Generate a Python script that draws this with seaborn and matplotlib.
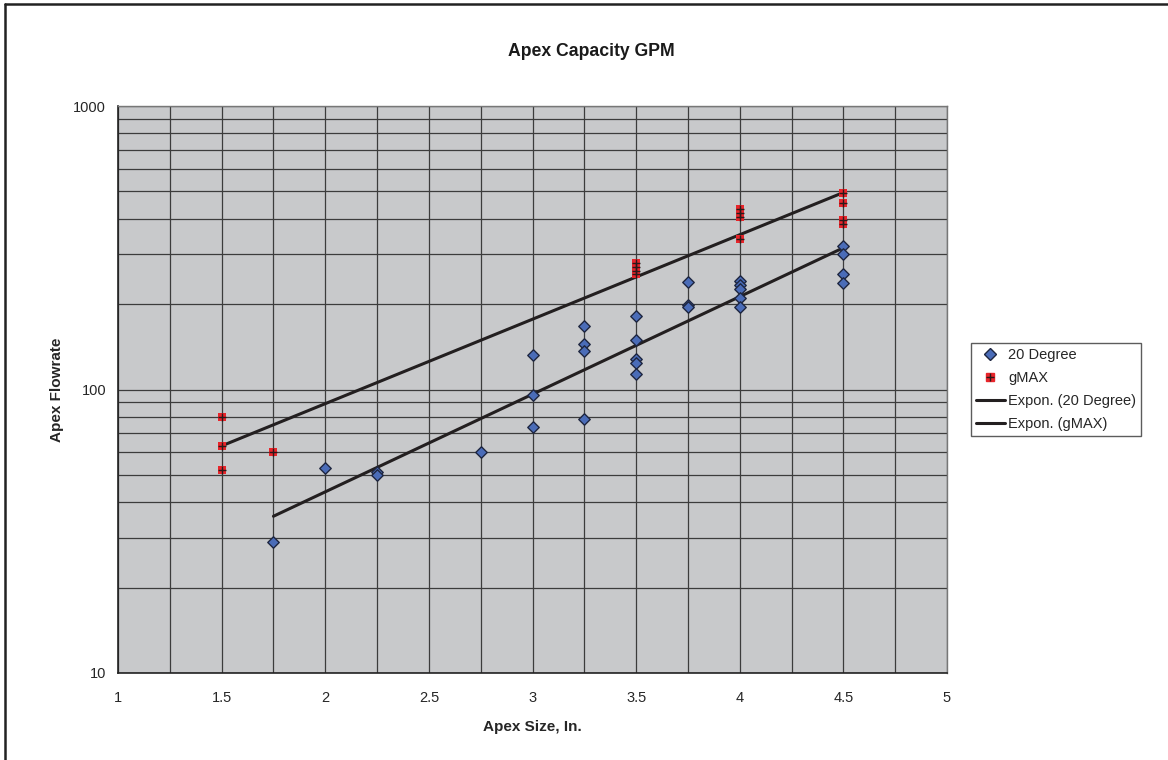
"""
Apex capacity chart: flowrate vs apex size, with exponential trendlines.
"""
import numpy as np
import pandas as pd
import matplotlib
matplotlib.use("Agg")
import matplotlib.pyplot as plt
from matplotlib.lines import Line2D
from matplotlib.ticker import FixedLocator, NullFormatter
import seaborn as sns


# 20 Degree series
deg20_size = [1.75, 2.0, 2.25, 2.25, 2.75,
              3.0, 3.0, 3.0,
              3.25, 3.25, 3.25, 3.25,
              3.5, 3.5, 3.5, 3.5, 3.5,
              3.75, 3.75, 3.75,
              4.0, 4.0, 4.0, 4.0, 4.0,
              4.5, 4.5, 4.5, 4.5]
deg20_flow = [29, 53, 51, 50, 60,
              132, 96, 74,
              167, 145, 137, 79,
              181, 150, 128, 124, 113,
              240, 198, 195,
              241, 234, 226, 210, 196,
              321, 301, 256, 238]

# gMAX series
gmax_size = [1.5, 1.5, 1.5, 1.75,
             3.5, 3.5, 3.5, 3.5,
             4.0, 4.0, 4.0, 4.0,
             4.5, 4.5, 4.5, 4.5]
gmax_flow = [80, 63, 52, 60,
             280, 270, 262, 255,
             432, 418, 405, 340,
             494, 454, 396, 385]

x_ticks = [1, 1.5, 2, 2.5, 3, 3.5, 4, 4.5, 5]
x_tick_labels = ["1", "1.5", "2", "2.5", "3", "3.5", "4", "4.5", "5"]
y_ticks = [10, 100, 1000]
y_tick_labels = ["10", "100", "1000"]

BLUE = "#4a6cb8"
RED = "#e8242a"
GRID = "#3c3c3c"


def expon_fit(x, y):
    """Excel-style exponential trendline y = a*exp(b*x), fitted in log space."""
    x = np.asarray(x, float)
    b, ln_a = np.polyfit(x, np.log(np.asarray(y, float)), 1)
    xs = np.linspace(x.min(), x.max(), 50)
    return pd.DataFrame({"x": xs, "y": np.exp(ln_a) * np.exp(b * xs)})


sns.set_style("white")
plt.rcParams["font.family"] = ["Liberation Sans", "DejaVu Sans"]

fig = plt.figure(figsize=(11.68, 7.6), dpi=100)
ax = fig.add_axes([118 / 1168, 1 - 673 / 760, (947 - 118) / 1168, (673 - 106) / 760])
ax.set_facecolor("#c8c9cb")

ax.set_yscale("log")
ax.set_xlim(1, 5)
ax.set_ylim(10, 1000)

# gridlines
ax.xaxis.set_minor_locator(FixedLocator(np.arange(1.25, 5, 0.25)))
ax.yaxis.set_minor_locator(FixedLocator([v * d for d in (10, 100) for v in range(2, 10)]))
ax.yaxis.set_minor_formatter(NullFormatter())
ax.grid(True, which="both", color=GRID, linewidth=0.9)
ax.set_axisbelow(True)

df20 = pd.DataFrame({"x": deg20_size, "y": deg20_flow})
dfg = pd.DataFrame({"x": gmax_size, "y": gmax_flow})

sns.lineplot(data=expon_fit(deg20_size, deg20_flow), x="x", y="y", ax=ax,
             color="#231f20", linewidth=2.2, zorder=3)
sns.lineplot(data=expon_fit(gmax_size, gmax_flow), x="x", y="y", ax=ax,
             color="#231f20", linewidth=2.2, zorder=3)

sns.scatterplot(data=df20, x="x", y="y", ax=ax, marker="D", s=34,
                color=BLUE, edgecolor="#1e2640", linewidth=1.0, zorder=4)
sns.scatterplot(data=dfg, x="x", y="y", ax=ax, marker="s", s=36,
                color=RED, edgecolor=RED, linewidth=0, zorder=4)
sns.scatterplot(data=dfg, x="x", y="y", ax=ax, marker="+", s=36,
                color="#2a1a1a", linewidth=1.0, zorder=5)

ax.set_xticks(x_ticks)
ax.set_xticklabels(x_tick_labels)
ax.set_yticks(y_ticks)
ax.set_yticklabels(y_tick_labels)
ax.tick_params(which="major", direction="out", length=3.5, width=1, color="#222222",
               labelsize=10.5)
ax.tick_params(axis="x", which="major", pad=9.5)
ax.tick_params(axis="y", which="major", pad=5)
ax.tick_params(which="minor", length=0)

for side in ("left", "bottom"):
    ax.spines[side].set_color("#222222")
    ax.spines[side].set_linewidth(1.2)
for side in ("top", "right"):
    ax.spines[side].set_color("#777777")
    ax.spines[side].set_linewidth(1.0)

fig.text(591 / 1168, 1 - 52 / 760, "Apex Capacity GPM", fontsize=12.7,
         fontweight="bold", ha="center", va="center", color="#1a1a1a")
ax.set_xlabel("Apex Size, In.", fontsize=11, fontweight="bold", labelpad=11)
ax.set_ylabel("Apex Flowrate", fontsize=11, fontweight="bold", labelpad=7)

# legend
h_deg = Line2D([], [], marker="D", linestyle="none", markersize=6.5,
               markerfacecolor=BLUE, markeredgecolor="#1e2640")
h_g = (Line2D([], [], marker="s", linestyle="none", markersize=6,
              markerfacecolor=RED, markeredgecolor=RED),
       Line2D([], [], marker="+", linestyle="none", markersize=6,
              markeredgecolor="#2a1a1a", markeredgewidth=1.0))
h_l1 = Line2D([], [], color="#231f20", linewidth=2.2)
h_l2 = Line2D([], [], color="#231f20", linewidth=2.2)
fig.legend([h_deg, h_g, h_l1, h_l2],
           ["20 Degree", "gMAX", "Expon. (20 Degree)", "Expon. (gMAX)"],
           loc="upper left", bbox_to_anchor=(971 / 1168, 1 - 343 / 760),
           frameon=True, fancybox=False, edgecolor="#333333", fontsize=10.5,
           handlelength=1.95, handletextpad=0.25, labelspacing=0.62,
           borderpad=0.35, borderaxespad=0)

# outer chart border (top and left edges visible in the frame)
fig.add_artist(Line2D([5 / 1168, 5 / 1168], [0, 1 - 4 / 760], color="#222222",
                      linewidth=1.8, transform=fig.transFigure))
fig.add_artist(Line2D([5 / 1168, 1], [1 - 4 / 760, 1 - 4 / 760], color="#222222",
                      linewidth=1.8, transform=fig.transFigure))

fig.savefig("out.png", dpi=100, facecolor="white")
